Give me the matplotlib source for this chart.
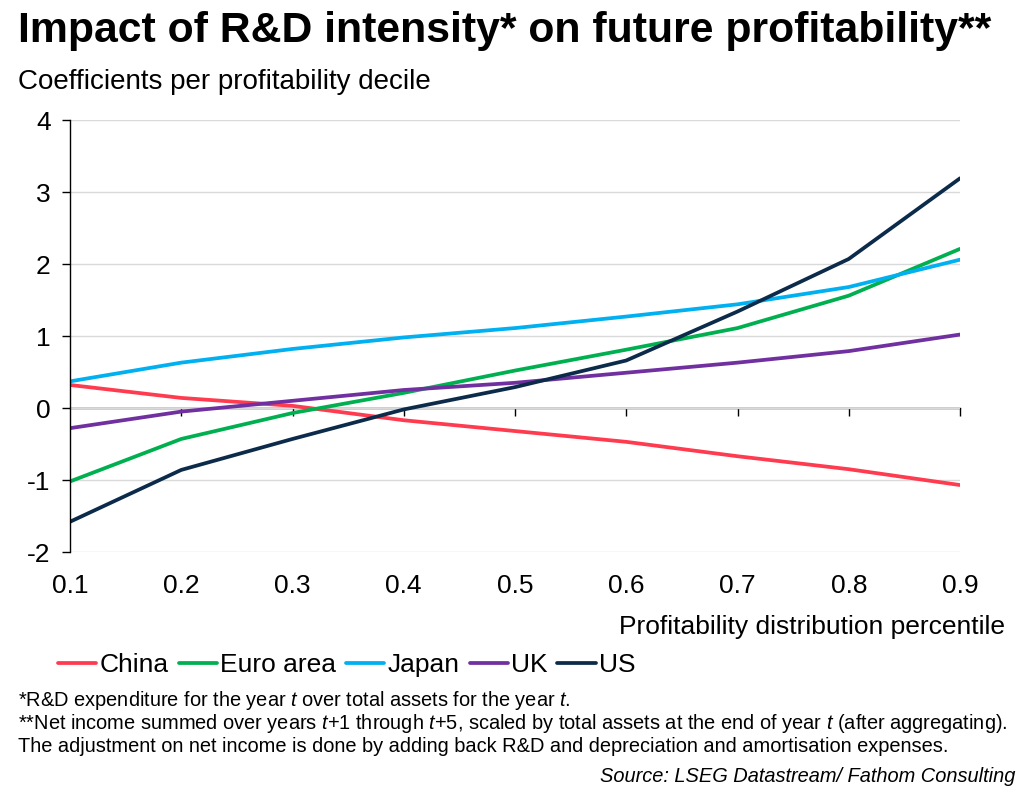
import matplotlib
matplotlib.use("Agg")
import matplotlib.pyplot as plt

plt.rcParams['font.family'] = ['Liberation Sans', 'DejaVu Sans']
plt.rcParams['mathtext.fontset'] = 'custom'
plt.rcParams['mathtext.rm'] = 'Liberation Sans'
plt.rcParams['mathtext.it'] = 'Liberation Sans:italic'
plt.rcParams['axes.unicode_minus'] = False

# data
percentiles = [0.1, 0.2, 0.3, 0.4, 0.5, 0.6, 0.7, 0.8, 0.9]
china = [0.32, 0.14, 0.03, -0.17, -0.32, -0.47, -0.67, -0.85, -1.07]
euro = [-1.02, -0.43, -0.07, 0.21, 0.52, 0.81, 1.11, 1.56, 2.21]
japan = [0.37, 0.63, 0.82, 0.98, 1.11, 1.27, 1.44, 1.68, 2.06]
uk = [-0.28, -0.05, 0.10, 0.25, 0.35, 0.49, 0.63, 0.79, 1.02]
us = [-1.58, -0.86, -0.43, -0.02, 0.29, 0.66, 1.34, 2.07, 3.19]

series = [('China', china, '#ff3b4f'),
          ('Euro area', euro, '#00b050'),
          ('Japan', japan, '#00b0f0'),
          ('UK', uk, '#7030a0'),
          ('US', us, '#0c2b4b')]

fig = plt.figure(figsize=(10.28, 7.99), dpi=100)
ax = fig.add_axes([70 / 1028, 1 - 552 / 799, 890 / 1028, 432 / 799])

for name, vals, col in series:
    ax.plot(percentiles, vals, color=col, lw=2.7, label=name, solid_capstyle='round')

ax.set_xlim(0.1, 0.9)
ax.set_ylim(-2, 4)
ax.set_yticks(range(-2, 5))
ax.set_xticks(percentiles)
ax.set_xticklabels([f'{p:.1f}' for p in percentiles])
ax.tick_params(axis='x', length=0, labelsize=19, pad=16)
ax.tick_params(axis='y', direction='out', length=6, width=1, labelsize=19, pad=8)
ax.grid(axis='y', color='#d9d9d9', lw=1)
ax.set_axisbelow(True)
for s in ['top', 'right', 'bottom']:
    ax.spines[s].set_visible(False)
ax.spines['left'].set_linewidth(1)

# x axis line across zero with tick marks
zero_ax = ax.secondary_xaxis(1 / 3)
zero_ax.set_xticks(percentiles[1:])
zero_ax.tick_params(direction='out', length=6, width=1, labelbottom=False, labeltop=False,
                    bottom=True, top=False)
zero_ax.spines['bottom'].set_linewidth(1)
zero_ax.spines['top'].set_visible(False)

fig.text(18 / 1028, 1 - 31 / 799, 'Impact of R&D intensity* on future profitability**',
         fontsize=30.8, fontweight='bold', va='center', ha='left')
fig.text(18 / 1028, 1 - 82 / 799, 'Coefficients per profitability decile',
         fontsize=20, va='center', ha='left')
fig.text(1005 / 1028, 1 - 627 / 799, 'Profitability distribution percentile',
         fontsize=19, va='center', ha='right')

fig.legend(loc='center left', bbox_to_anchor=(58 / 1028, 1 - 665 / 799), ncol=5,
           frameon=False, fontsize=19, handlelength=1.45, handletextpad=0.12,
           columnspacing=0.38, borderaxespad=0, borderpad=0)

notes = [r'*R&D expenditure for the year $\it{t}$ over total assets for the year $\it{t}$.',
         r'**Net income summed over years $\it{t{+}1}$ through $\it{t{+}5}$, scaled by total assets at the end of year $\it{t}$ (after aggregating).',
         r'The adjustment on net income is done by adding back R&D and depreciation and amortisation expenses.']
for i, n in enumerate(notes):
    fig.text(18 / 1028, 1 - (701 + 22.5 * i) / 799, n, fontsize=14.4, va='center', ha='left')
fig.text(1015 / 1028, 1 - 776 / 799, 'Source: LSEG Datastream/ Fathom Consulting',
         fontsize=14.4, style='italic', va='center', ha='right')

fig.savefig('out.png', dpi=100)
